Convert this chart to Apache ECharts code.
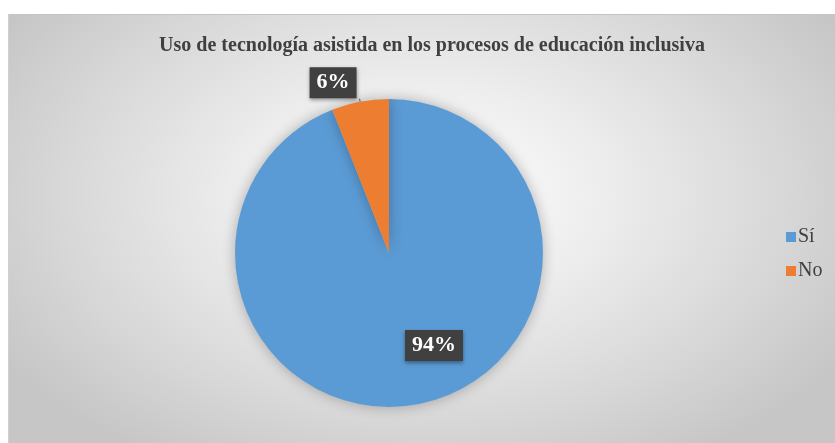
<!DOCTYPE html>
<html>
<head>
<meta charset="utf-8">
<script src="https://cdn.jsdelivr.net/npm/echarts@6/dist/echarts.min.js"></script>
<style>
    html, body { margin: 0; padding: 0; background: #ffffff; }
    #bg {
        position: absolute; left: 8px; top: 14px; width: 827px; height: 429px;
        border-top: 1px solid #c4c4c4; border-left: 1px solid #d0d0d0;
        background: radial-gradient(ellipse 60% 72% at 50% 42%, #ffffff 0%, #eeeeee 35%, #d8d8d8 72%, #c6c6c6 100%);
    }
    #main { position: absolute; left: 0; top: 0; width: 835px; height: 443px; }
</style>
</head>
<body>
<div id="bg"></div>
<div id="main"></div>
<script>
var categories = ['Sí', 'No'];
var values = [94, 6];
var colors = ['#5B9BD5', '#ED7D31'];

var dom = document.getElementById("main");
var myChart = echarts.init(dom);

var data = [];
for (var i = 0; i < categories.length; i++) {
    data.push({
        name: categories[i],
        value: values[i],
        itemStyle: { color: colors[i] }
    });
}
// label placement like the original (inside for the big slice, outside for the small one)
data[0].label = { position: 'inside', offset: [30, 14] };
data[1].label = { position: 'outside' };
data[1].labelLine = { show: true, length: 3, length2: 0 };

var labelBox = {
    formatter: '{c}%',
    color: '#ffffff',
    fontFamily: 'Liberation Serif',
    fontWeight: 'bold',
    fontSize: 22,
    backgroundColor: '#404040',
    padding: [6, 7, 3, 7],
    shadowColor: 'rgba(0,0,0,0.4)',
    shadowBlur: 4,
    shadowOffsetY: 2
};

var option = {
    animation: false,
    title: {
        text: 'Uso de tecnología asistida en los procesos de educación inclusiva',
        left: 427,
        textAlign: 'center',
        top: 31,
        textStyle: {
            fontFamily: 'Liberation Serif',
            fontWeight: 'bold',
            fontSize: 20,
            color: '#404040'
        }
    },
    legend: {
        orient: 'vertical',
        left: 781,
        top: 222,
        itemWidth: 10,
        itemHeight: 10,
        itemGap: 14,
        icon: 'rect',
        textStyle: {
            fontFamily: 'Liberation Serif',
            fontSize: 20,
            color: '#404040',
            padding: [0, 0, 0, -3]
        },
        data: categories
    },
    series: [{
        type: 'pie',
        center: [389, 253],
        radius: 154,
        startAngle: 90,
        clockwise: true,
        data: data,
        label: labelBox,
        labelLine: { lineStyle: { color: '#595959', width: 1 } },
        labelLayout: function (params) {
            if (params.dataIndex === 1) {
                return { dy: -16, dx: 2 };
            }
            return {};
        },
        itemStyle: {
            shadowBlur: 14,
            shadowColor: 'rgba(0,0,0,0.28)'
        },
        emphasis: { disabled: true }
    }]
};

if (option && typeof option === "object") {
    myChart.setOption(option, true);
}
</script>
</body>
</html>
